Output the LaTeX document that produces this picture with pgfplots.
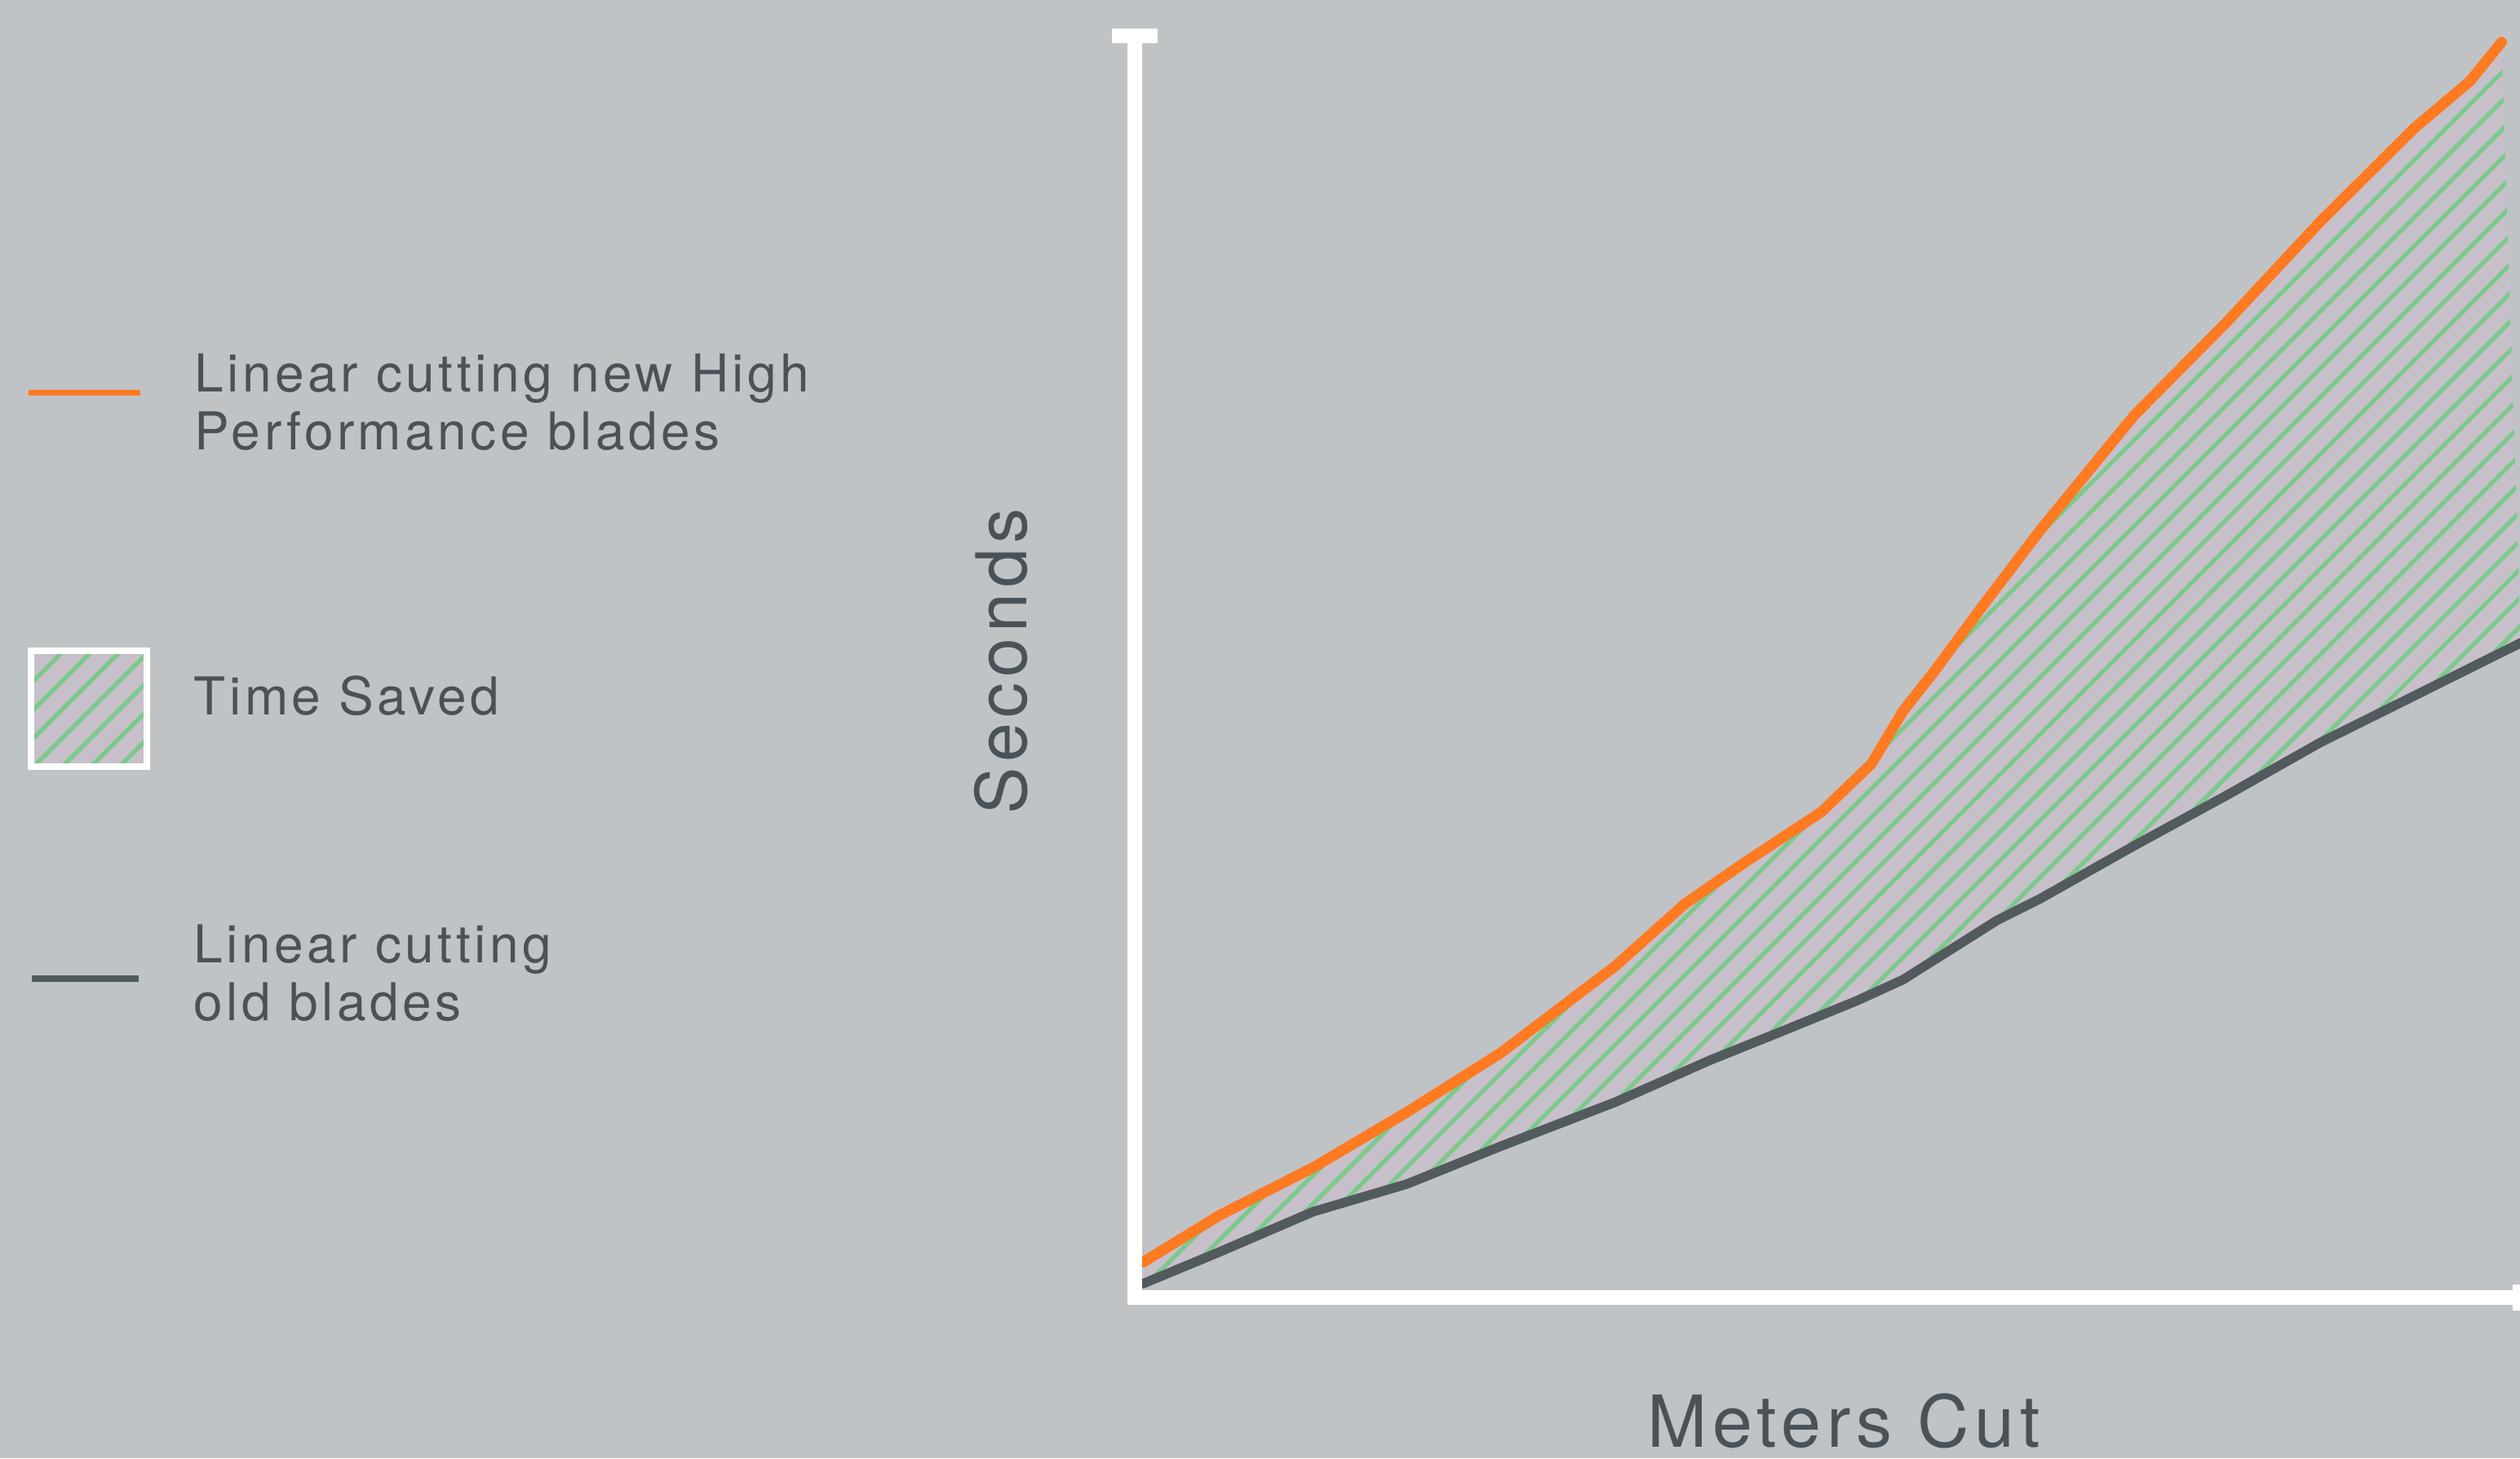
\documentclass[border=0pt]{standalone}
\usepackage{pgfplots}
\pgfplotsset{compat=1.18}
\usepackage{pgfplotstable}
\usepgfplotslibrary{fillbetween}
\usetikzlibrary{patterns.meta}
\usepackage{fontspec}
\setmainfont{TeX Gyre Heros}
\newfontfamily\legfont{TeX Gyre Heros}[LetterSpace=7]
\newfontfamily\yfont{TeX Gyre Heros}[LetterSpace=8]
\newfontfamily\xfont{TeX Gyre Heros}[LetterSpace=7.5]

\definecolor{bg}{HTML}{C0C3C6}
\definecolor{txt}{HTML}{4B5257}
\definecolor{neworange}{HTML}{FF7A21}
\definecolor{oldgray}{HTML}{525A5E}
\definecolor{hatchgreen}{HTML}{7CC98C}
\definecolor{lav}{HTML}{C7C0CA}

\tikzdeclarepattern{
  name=hatch,
  type=uncolored,
  bounding box={(0,-0.7pt) and (6.2pt,0.7pt)},
  tile size={(6.2pt,6.2pt)},
  tile transformation={rotate=45},
  code={\draw[line width=1.35pt] (0,0) -- (6.2pt,0);}
}

% new high performance blades
\pgfplotstableread{
x y
0.6 2.8
6.1 6.5
12.9 10.3
19.7 14.7
26.5 19.4
34.8 26.3
39.8 31.2
44.3 34.6
49.7 38.5
53.3 42.3
55.6 46.5
57.9 49.7
61.2 54.6
65.5 60.8
72.3 69.9
79.0 77.3
85.8 85.3
92.6 92.7
96.6 96.4
98.9 99.5
}\newblades

% old blades
\pgfplotstableread{
x y
0.6 1.1
6.1 3.6
12.9 6.8
19.7 9.0
26.5 12.0
34.8 15.5
41.6 18.8
46.6 21.0
52.2 23.5
55.6 25.2
62.4 29.9
65.5 31.6
72.3 35.8
79.0 39.8
85.8 44.0
92.6 47.7
100.3 51.9
}\oldblades

\begin{document}
\begin{tikzpicture}
\fill[bg] (0,0) rectangle (772.25pt,447pt);

\begin{axis}[
  at={(347.75pt,49.25pt)}, anchor=south west,
  width=423.5pt, height=386.75pt, scale only axis,
  xmin=0, xmax=100, ymin=0, ymax=100,
  hide axis, clip=false,
]
\addplot[draw=none, name path=new, forget plot] table {\newblades};
\addplot[draw=none, name path=old, forget plot] table {\oldblades};
\addplot[fill=lav, draw=none] fill between[of=new and old, on layer=main];
\addplot[pattern=hatch, pattern color=hatchgreen, draw=none] fill between[of=new and old, on layer=main];
\addplot[neworange, line width=3.25pt, line cap=round, line join=round] table {\newblades};
\addplot[oldgray, line width=2.9pt, line cap=round, line join=round] table {\oldblades};

\draw[white, line width=4.5pt, line join=miter] (rel axis cs:0,1) -- (rel axis cs:0,0) -- (rel axis cs:1,0);
\draw[white, line width=4.5pt] ([xshift=-7pt]rel axis cs:0,1) -- ([xshift=7pt]rel axis cs:0,1);
\draw[white, line width=2.5pt] ([yshift=-4pt]rel axis cs:1,0) -- ([yshift=4pt]rel axis cs:1,0);
\end{axis}

% axis titles
\node[txt, rotate=90, anchor=base, inner sep=0] at (314.5pt,244.25pt)
  {\yfont\fontsize{21.5}{21.5}\selectfont Seconds};
\node[txt, anchor=base, inner sep=0] at (565pt,3.5pt)
  {\xfont\fontsize{22}{22}\selectfont Meters Cut};

% legend
\draw[neworange, line width=1.75pt] (8.75pt,326.5pt) -- (43pt,326.5pt);
\node[txt, anchor=base west, inner sep=0] at (59.5pt,326.9pt)
  {\legfont\fontsize{16}{16}\selectfont Linear cutting new High};
\node[txt, anchor=base west, inner sep=0] at (59.5pt,309pt)
  {\legfont\fontsize{16}{16}\selectfont Performance blades};

\fill[lav] (9.5pt,212pt) rectangle (45pt,247.5pt);
\fill[pattern=hatch, pattern color=hatchgreen] (9.5pt,212pt) rectangle (45pt,247.5pt);
\draw[white, line width=2pt] (9.5pt,212pt) rectangle (45pt,247.5pt);
\node[txt, anchor=base west, inner sep=0] at (59.25pt,227.85pt)
  {\legfont\fontsize{16}{16}\selectfont Time Saved};

\draw[oldgray, line width=1.75pt] (9.75pt,147pt) -- (42.5pt,147pt);
\node[txt, anchor=base west, inner sep=0] at (59.25pt,151.75pt)
  {\legfont\fontsize{16}{16}\selectfont Linear cutting};
\node[txt, anchor=base west, inner sep=0] at (59.25pt,134.25pt)
  {\legfont\fontsize{16}{16}\selectfont old blades};

\pgfresetboundingbox
\useasboundingbox (0,0) rectangle (772.25pt,447pt);
\end{tikzpicture}
\end{document}
